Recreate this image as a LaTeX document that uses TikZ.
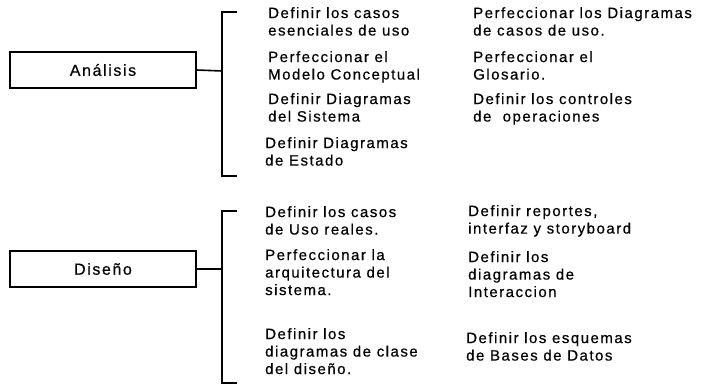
\documentclass[tikz,border=0pt]{standalone}
\usepackage{fontspec}
\setmainfont{Liberation Sans}[LetterSpace=10,FakeBold=0.5]

\begin{document}
\begin{tikzpicture}[
    x=1pt, y=-1pt,
    phase/.style={
        rectangle,
        draw,
        line width=1.6pt,
        minimum width=186pt,
        minimum height=36pt,
        inner sep=0pt,
        font=\fontsize{16}{18}\selectfont
    },
    item/.style={
        anchor=north west,
        inner sep=0pt,
        align=left,
        font=\fontsize{15}{17.5}\selectfont
    },
    link/.style={
        line width=1.6pt
    }
]
\useasboundingbox (0,0) rectangle (710,387);

% Analisis
\node[phase] (ana) at (103,70) {An\'alisis};

\coordinate (anabr) at (222,71);
\coordinate (anatop) at (237,12);
\coordinate (anabot) at (237,176);

\draw[link] (ana.east) -- (anabr);
\draw[link] (anatop) -- (anatop -| anabr) -- (anabot -| anabr) -- (anabot);

\node[item] (ana1) at (268,7) {Definir los casos\\esenciales de uso};
\node[item] (ana2) at (268,51) {Perfeccionar el\\Modelo Conceptual};
\node[item] (ana3) at (268,93) {Definir Diagramas\\del Sistema};
\node[item] (ana4) at (265,137) {Definir Diagramas\\de Estado};

\node[item] (ana5) at (473,7) {Perfeccionar los Diagramas\\de casos de uso.};
\node[item] (ana6) at (473,51) {Perfeccionar el\\Glosario.};
\node[item] (ana7) at (473,93) {Definir los controles\\de\ \ operaciones};

% Diseno
\node[phase] (dis) at (103,269) {Dise\~no};

\coordinate (disbr) at (222,269);
\coordinate (distop) at (237,211);
\coordinate (disbot) at (237,383);

\draw[link] (dis.east) -- (disbr);
\draw[link] (distop) -- (distop -| disbr) -- (disbot -| disbr) -- (disbot);

\node[item] (dis1) at (265,206) {Definir los casos\\de Uso reales.};
\node[item] (dis2) at (265,249) {Perfeccionar la\\arquitectura del\\sistema.};
\node[item] (dis3) at (265,328) {Definir los\\diagramas de clase\\del dise\~no.};

\node[item] (dis4) at (468,205) {Definir reportes,\\interfaz y storyboard};
\node[item] (dis5) at (468,251) {Definir los\\diagramas de\\Interaccion};
\node[item] (dis6) at (466,332) {Definir los esquemas\\de Bases de Datos};

\end{tikzpicture}
\end{document}
